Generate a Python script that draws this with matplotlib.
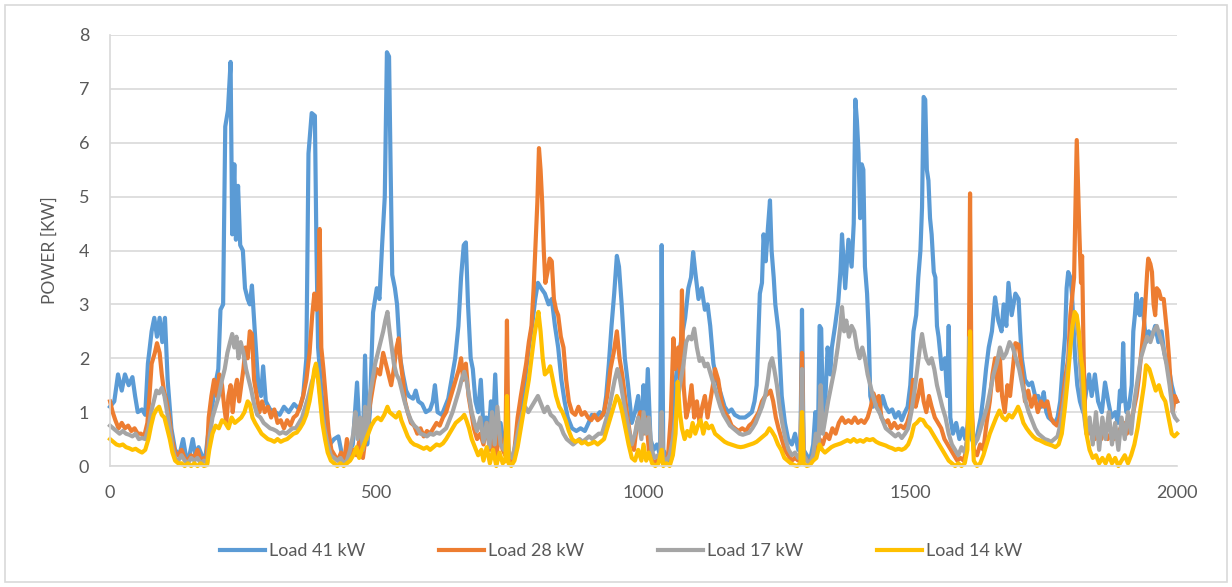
import matplotlib.pyplot as plt
import matplotlib.patches as mpatches
import numpy as np

plt.rcParams['font.family'] = ['Lato', 'DejaVu Sans']

# (time step, power kW)
load_41 = [(0,1.1),(8,1.2),(15,1.7),(22,1.4),(28,1.7),(35,1.5),(42,1.65),(47,1.3),(52,1.0),(60,1.05),
    (66,0.95),(71,1.9),(78,2.5),(83,2.75),(88,2.4),(93,2.75),(98,2.3),(103,2.75),(108,1.6),(115,0.7),
    (122,0.3),(130,0.2),(137,0.5),(142,0.2),(148,0.15),(155,0.5),(160,0.2),(166,0.35),(172,0.2),(178,0.1),
    (184,0.6),(190,1.0),(197,1.5),(203,1.8),(207,2.9),(212,3.0),(216,6.3),(221,6.6),(226,7.5),(229,4.3),
    (233,5.6),(236,4.2),(240,5.2),(244,4.1),(249,4.0),(253,3.3),(258,3.1),(262,3.0),(266,3.35),(272,2.4),
    (278,1.5),(283,1.3),(287,1.85),(292,1.2),(300,1.05),(310,1.0),(318,0.95),(326,1.1),(335,1.0),(345,1.15),
    (355,1.05),(362,1.3),(368,2.0),(372,5.8),(378,6.55),(384,6.5),(387,4.0),(390,2.2),(397,1.3),(405,0.8),
    (412,0.4),(420,0.5),(428,0.55),(435,0.2),(442,0.15),(448,0.25),(455,0.4),(463,1.55),(468,0.6),(474,0.4),
    (478,2.05),(482,0.4),(487,1.0),(493,2.85),(500,3.3),(505,3.1),(510,4.1),(515,5.0),(519,7.68),(523,7.6),
    (526,5.5),(529,3.55),(534,3.3),(538,3.0),(544,2.0),(549,1.7),(555,1.4),(560,1.3),(568,1.25),(573,1.4),
    (578,1.2),(585,1.15),(592,1.0),(600,1.05),(605,1.2),(609,1.5),(614,1.0),(622,0.95),(628,1.1),(634,1.25),
    (640,1.6),(647,2.0),(653,2.6),(658,3.5),(663,4.1),(667,4.15),(671,3.0),(676,2.0),(680,1.8),(685,1.2),
    (690,1.0),(695,1.6),(700,0.7),(705,0.9),(709,0.5),(714,1.2),(718,0.7),(722,1.7),(727,0.5),(732,0.8),
    (738,0.4),(746,0.2),(752,0.1),(759,0.2),(765,0.6),(772,1.0),(778,1.6),(785,2.2),(791,2.6),(797,3.1),
    (802,3.4),(808,3.3),(815,3.2),(822,3.0),(828,3.1),(834,2.6),(840,2.2),(846,1.6),(852,1.2),(858,0.9),
    (866,0.7),(874,0.65),(882,0.7),(890,0.65),(897,0.8),(903,0.95),(910,0.9),(918,1.0),(925,0.95),(930,1.3),
    (935,1.9),(940,2.6),(945,3.2),(950,3.9),(954,3.7),(959,3.0),(965,2.0),(971,1.5),(978,0.8),(984,1.0),
    (990,1.3),(996,0.6),(1000,1.5),(1004,0.8),(1008,1.8),(1013,0.5),(1019,0.3),(1025,0.4),(1031,0.2),(1034,4.1),
    (1037,0.3),(1042,0.2),(1047,0.1),(1053,0.15),(1059,1.5),(1065,2.0),(1072,2.4),(1078,2.75),(1084,3.3),(1089,3.5),
    (1093,3.97),(1097,3.6),(1103,3.1),(1109,3.3),(1115,2.9),(1120,3.0),(1125,2.6),(1131,1.9),(1137,1.6),(1146,1.3),
    (1152,1.1),(1159,1.0),(1165,1.05),(1171,0.95),(1180,0.9),(1190,0.9),(1197,0.95),(1203,1.0),(1208,1.2),(1212,1.5),
    (1218,3.2),(1222,3.4),(1225,4.3),(1229,3.8),(1233,4.4),(1237,4.93),(1240,4.0),(1244,3.5),(1247,3.0),(1253,2.5),
    (1259,1.3),(1265,0.8),(1271,0.5),(1278,0.4),(1284,0.6),(1290,0.3),(1294,0.3),(1297,2.9),(1300,0.3),(1306,0.2),
    (1312,0.1),(1318,0.4),(1322,1.0),(1327,0.6),(1330,2.6),(1333,2.55),(1336,1.0),(1341,1.3),(1345,2.2),(1350,1.7),
    (1353,2.2),(1359,2.6),(1365,3.05),(1369,3.6),(1372,4.3),(1378,3.3),(1384,4.2),(1390,3.7),(1394,4.5),(1397,6.8),
    (1400,6.4),(1403,5.8),(1406,4.6),(1409,5.6),(1412,5.5),(1415,3.7),(1419,3.2),(1422,2.5),(1425,1.3),(1430,1.1),
    (1436,1.2),(1442,1.0),(1448,1.3),(1454,1.1),(1460,1.0),(1466,1.05),(1472,0.9),(1478,1.0),(1484,0.85),(1490,1.0),
    (1495,1.1),(1500,1.5),(1506,2.5),(1511,2.8),(1515,3.5),(1519,4.0),(1522,4.8),(1525,6.85),(1528,6.8),(1531,5.5),
    (1534,5.3),(1537,4.6),(1540,4.3),(1544,3.6),(1547,3.5),(1550,2.6),(1553,2.4),(1559,1.8),(1565,2.0),(1569,1.3),
    (1572,2.6),(1575,0.9),(1580,0.6),(1586,0.8),(1592,0.5),(1598,0.7),(1603,0.5),(1609,0.8),(1615,0.5),(1620,0.4),
    (1626,0.6),(1632,0.9),(1637,1.3),(1642,1.8),(1647,2.2),(1653,2.5),(1659,3.13),(1665,2.7),(1671,2.5),(1675,3.0),
    (1680,2.6),(1684,3.4),(1690,2.8),(1697,3.2),(1703,3.1),(1706,2.5),(1709,2.0),(1715,1.6),(1722,1.5),(1728,1.55),
    (1734,1.3),(1740,1.3),(1746,1.1),(1750,1.37),(1755,1.0),(1759,0.9),(1765,0.85),(1771,0.8),(1776,0.9),(1781,1.2),
    (1786,1.9),(1790,2.4),(1793,3.3),(1796,3.6),(1800,3.5),(1803,3.2),(1806,2.6),(1809,2.0),(1813,1.5),(1818,1.2),
    (1824,1.0),(1830,1.4),(1835,1.7),(1840,1.3),(1846,1.7),(1852,1.2),(1859,1.0),(1865,1.55),(1871,1.2),(1877,0.9),
    (1884,1.0),(1889,0.8),(1893,1.4),(1896,1.2),(1899,2.28),(1902,1.3),(1905,1.0),(1910,1.1),(1915,1.5),(1918,2.5),
    (1921,2.8),(1924,3.2),(1927,2.9),(1930,2.8),(1934,3.1),(1938,2.7),(1942,2.3),(1947,2.5),(1953,2.4),(1959,2.6),
    (1965,2.3),(1971,2.5),(1976,2.1),(1981,1.9),(1985,1.8),(1990,1.5),(1995,1.3),(2000,1.2)]

load_28 = [(0,1.2),(5,1.0),(10,0.85),(16,0.7),(22,0.8),(28,0.7),(34,0.75),(40,0.65),(46,0.7),(52,0.6),
    (58,0.6),(64,0.55),(70,0.8),(74,1.3),(78,1.9),(84,2.1),(88,2.28),(93,2.1),(97,1.7),(101,1.4),
    (106,1.2),(111,0.9),(116,0.5),(122,0.25),(128,0.2),(134,0.3),(140,0.15),(146,0.1),(152,0.2),(158,0.15),
    (164,0.3),(170,0.1),(176,0.15),(181,0.1),(185,0.9),(190,1.3),(195,1.6),(200,1.3),(205,1.7),(210,1.5),
    (214,1.1),(218,0.8),(222,1.3),(226,1.5),(230,1.0),(234,1.4),(238,1.6),(242,1.2),(246,1.5),(250,1.8),
    (254,2.2),(258,2.0),(262,2.5),(266,2.45),(270,1.6),(275,1.3),(280,1.0),(285,1.2),(290,1.0),(296,1.1),
    (302,0.9),(308,1.05),(314,0.8),(320,0.85),(326,0.7),(332,0.85),(338,0.75),(344,0.9),(350,0.95),(356,1.1),
    (362,1.3),(368,1.6),(374,2.1),(379,2.8),(383,3.2),(387,2.9),(390,3.0),(393,4.4),(396,2.2),(400,1.8),
    (405,1.2),(410,0.6),(415,0.3),(421,0.2),(427,0.1),(433,0.25),(439,0.1),(444,0.5),(450,0.2),(456,0.3),
    (462,0.2),(468,0.5),(474,0.15),(480,0.6),(485,1.0),(490,1.3),(495,1.6),(500,1.8),(506,1.7),(512,2.1),
    (517,1.9),(522,1.7),(527,1.5),(532,1.8),(537,2.2),(541,2.37),(545,1.9),(549,1.6),(553,1.2),(558,1.0),
    (564,0.8),(570,0.75),(576,0.6),(582,0.7),(588,0.55),(594,0.65),(600,0.6),(606,0.7),(612,0.8),(618,0.75),
    (624,0.9),(630,1.0),(636,1.2),(642,1.4),(648,1.6),(654,1.8),(658,2.0),(662,1.6),(667,1.9),(672,1.3),
    (677,1.0),(682,0.7),(688,0.5),(694,0.6),(700,0.4),(706,0.8),(712,0.3),(718,0.5),(724,0.2),(730,0.6),
    (736,0.3),(741,0.2),(744,2.7),(747,0.2),(752,0.1),(758,0.3),(764,0.9),(770,1.3),(775,1.6),(780,1.9),
    (785,2.3),(790,2.6),(794,3.3),(798,4.2),(801,4.9),(804,5.9),(807,5.5),(810,4.9),(813,4.0),(816,3.4),
    (820,3.6),(824,3.85),(828,3.8),(832,3.1),(836,2.9),(840,2.8),(845,2.4),(850,2.2),(855,1.6),(860,1.2),
    (866,1.0),(872,0.95),(878,1.1),(884,0.95),(890,1.0),(896,0.9),(902,0.85),(908,0.95),(914,0.85),(920,0.9),
    (926,1.0),(932,1.3),(938,1.8),(944,2.1),(950,2.5),(955,2.0),(960,1.7),(965,1.3),(970,0.9),(976,0.5),
    (982,0.3),(988,0.8),(994,1.0),(1000,0.6),(1005,0.9),(1010,0.3),(1016,0.1),(1022,0.05),(1028,0.15),(1034,0.1),
    (1040,0.05),(1046,0.2),(1051,0.9),(1056,2.37),(1059,1.8),(1065,2.2),(1069,1.6),(1072,3.26),(1075,1.5),(1080,0.9),
    (1085,1.1),(1090,1.5),(1095,0.9),(1100,1.2),(1105,0.8),(1110,1.1),(1115,1.3),(1120,0.9),(1125,1.2),(1130,1.5),
    (1134,1.8),(1140,1.6),(1146,1.2),(1152,1.0),(1159,0.9),(1165,0.75),(1171,0.7),(1178,0.65),(1185,0.7),(1192,0.65),
    (1198,0.75),(1204,0.8),(1210,0.9),(1216,1.0),(1222,1.2),(1228,1.3),(1234,1.35),(1238,1.4),(1243,1.2),(1248,0.9),
    (1253,0.7),(1259,0.5),(1265,0.3),(1271,0.2),(1278,0.1),(1284,0.15),(1290,0.1),(1294,0.2),(1297,2.1),(1300,0.2),
    (1306,0.1),(1312,0.05),(1318,0.2),(1324,0.3),(1330,0.5),(1336,0.4),(1342,0.6),(1348,0.5),(1354,0.7),(1360,0.6),
    (1366,0.8),(1372,0.9),(1378,0.8),(1384,0.85),(1390,0.8),(1396,0.9),(1402,0.8),(1408,0.85),(1414,0.8),(1420,0.9),
    (1426,1.1),(1431,1.35),(1436,1.2),(1441,1.3),(1446,0.9),(1452,0.8),(1458,0.85),(1464,0.7),(1470,0.8),(1476,0.7),
    (1482,0.75),(1488,0.7),(1494,0.8),(1500,1.0),(1505,1.6),(1510,1.1),(1515,1.3),(1520,1.6),(1525,1.2),(1530,1.0),
    (1535,1.3),(1540,1.1),(1546,0.9),(1552,0.8),(1558,0.7),(1564,0.5),(1570,0.4),(1576,0.3),(1582,0.2),(1588,0.1),
    (1594,0.15),(1600,0.1),(1605,0.3),(1609,1.0),(1612,5.06),(1615,1.2),(1619,0.3),(1625,0.2),(1631,0.4),(1637,0.3),
    (1643,0.8),(1649,1.2),(1654,1.7),(1659,2.0),(1664,1.4),(1668,2.0),(1672,1.3),(1677,1.0),(1682,1.5),(1687,1.3),
    (1692,1.8),(1697,2.28),(1703,2.25),(1709,1.8),(1715,1.2),(1721,1.4),(1727,1.1),(1733,1.3),(1739,1.0),(1745,1.2),
    (1751,1.1),(1757,1.2),(1763,0.9),(1769,0.8),(1775,0.75),(1780,0.9),(1785,1.2),(1790,1.6),(1796,2.0),(1800,2.8),
    (1803,3.1),(1807,3.5),(1810,5.0),(1812,6.05),(1815,5.0),(1817,4.3),(1820,3.4),(1822,3.9),(1825,2.0),(1828,0.8),
    (1834,0.6),(1840,0.7),(1846,0.5),(1852,0.6),(1858,0.5),(1864,0.7),(1870,0.5),(1876,0.6),(1882,0.5),(1888,0.6),
    (1894,0.7),(1900,0.8),(1906,0.6),(1912,0.8),(1918,1.0),(1924,1.3),(1928,1.6),(1934,2.2),(1938,2.6),(1941,3.1),
    (1944,3.6),(1946,3.85),(1950,3.75),(1953,3.6),(1956,3.0),(1959,2.8),(1962,3.3),(1966,3.25),(1970,3.1),(1975,3.1),
    (1978,2.8),(1981,2.5),(1985,2.0),(1988,1.5),(1992,1.0),(1996,1.3),(2000,1.2)]

load_17 = [(0,0.75),(6,0.7),(12,0.65),(18,0.6),(24,0.65),(30,0.6),(36,0.58),(42,0.55),(48,0.6),(54,0.5),
    (60,0.52),(66,0.5),(72,0.7),(77,1.0),(82,1.2),(87,1.4),(92,1.35),(97,1.45),(102,1.3),(107,1.0),
    (112,0.7),(117,0.35),(122,0.15),(128,0.1),(134,0.2),(140,0.1),(146,0.05),(152,0.15),(158,0.1),(164,0.15),
    (170,0.05),(176,0.1),(182,0.05),(186,0.5),(192,0.9),(198,1.1),(204,1.3),(210,1.6),(215,1.8),(220,2.1),
    (225,2.3),(229,2.45),(233,2.2),(237,2.4),(241,2.0),(245,2.3),(250,2.1),(255,1.8),(260,1.6),(265,1.4),
    (270,1.15),(276,0.95),(282,0.9),(288,0.8),(294,0.75),(300,0.7),(306,0.68),(312,0.65),(318,0.6),(324,0.63),
    (330,0.6),(336,0.65),(342,0.7),(348,0.7),(354,0.8),(360,0.9),(366,1.1),(372,1.3),(378,1.55),(383,1.7),
    (388,1.8),(392,1.5),(397,1.0),(402,0.7),(408,0.4),(414,0.2),(420,0.15),(426,0.1),(432,0.15),(438,0.05),
    (444,0.1),(450,0.3),(456,0.6),(460,1.0),(464,0.5),(469,0.9),(474,0.3),(478,1.1),(482,0.5),(487,1.3),
    (492,1.6),(497,1.9),(502,2.1),(507,2.3),(512,2.5),(516,2.7),(520,2.86),(524,2.5),(528,2.2),(532,1.9),
    (537,1.7),(542,1.6),(547,1.4),(552,1.2),(558,1.0),(564,0.85),(570,0.75),(576,0.7),(582,0.6),(588,0.58),
    (594,0.55),(600,0.6),(606,0.58),(612,0.62),(618,0.6),(624,0.65),(630,0.7),(636,0.85),(642,1.0),(648,1.2),
    (654,1.4),(659,1.6),(664,1.75),(668,1.6),(673,1.3),(678,1.0),(683,0.8),(688,0.65),(694,0.9),(700,0.45),
    (706,0.8),(711,0.35),(716,1.0),(721,0.4),(726,1.1),(732,0.4),(738,0.3),(744,0.6),(748,0.2),(754,0.15),
    (760,0.4),(766,0.7),(772,0.95),(778,1.1),(784,1.0),(790,1.1),(796,1.2),(802,1.3),(808,1.15),(814,1.0),
    (820,1.1),(826,0.95),(832,0.9),(838,0.8),(844,0.75),(850,0.6),(856,0.5),(862,0.45),(868,0.4),(874,0.45),
    (880,0.5),(886,0.45),(892,0.5),(898,0.55),(904,0.5),(910,0.55),(916,0.6),(922,0.6),(928,0.8),(934,1.0),
    (940,1.3),(946,1.6),(951,1.8),(956,1.6),(961,1.3),(966,1.0),(972,0.7),(978,0.4),(984,0.6),(990,0.9),
    (996,0.5),(1000,1.0),(1005,0.6),(1010,0.9),(1015,0.3),(1021,0.15),(1027,0.2),(1031,0.1),(1034,1.0),(1037,0.15),
    (1043,0.1),(1049,0.2),(1055,0.5),(1060,0.9),(1065,1.3),(1070,1.6),(1075,1.9),(1080,2.3),(1085,2.4),(1090,2.35),
    (1095,2.55),(1100,2.2),(1105,1.95),(1110,2.0),(1115,1.85),(1120,1.9),(1126,1.7),(1132,1.5),(1138,1.3),(1144,1.1),
    (1150,0.95),(1156,0.85),(1162,0.75),(1168,0.7),(1174,0.65),(1180,0.6),(1186,0.58),(1192,0.6),(1198,0.62),(1204,0.7),
    (1210,0.8),(1216,0.95),(1222,1.1),(1228,1.3),(1233,1.6),(1237,1.9),(1241,2.0),(1245,1.8),(1250,1.5),(1255,1.1),
    (1260,0.8),(1266,0.5),(1272,0.3),(1278,0.2),(1284,0.25),(1290,0.15),(1294,0.2),(1297,1.8),(1300,0.2),(1306,0.1),
    (1312,0.05),(1318,0.2),(1323,0.6),(1328,0.4),(1332,1.5),(1336,0.6),(1341,0.9),(1346,1.2),(1352,1.5),(1358,1.8),
    (1364,2.2),(1369,2.6),(1372,2.95),(1376,2.5),(1380,2.7),(1385,2.4),(1390,2.6),(1395,2.5),(1400,2.2),(1405,2.0),
    (1410,2.2),(1415,2.0),(1420,1.7),(1425,1.5),(1430,1.3),(1436,1.1),(1442,1.0),(1448,0.85),(1454,0.7),(1460,0.65),
    (1466,0.6),(1472,0.55),(1478,0.6),(1484,0.52),(1490,0.6),(1496,0.7),(1502,1.0),(1508,1.4),(1513,1.8),(1518,2.2),
    (1522,2.45),(1526,2.2),(1530,2.0),(1535,1.9),(1540,2.0),(1545,1.8),(1550,1.5),(1555,1.3),(1560,1.1),(1566,0.9),
    (1572,0.6),(1578,0.4),(1584,0.3),(1590,0.2),(1596,0.35),(1602,0.25),(1607,0.5),(1611,2.4),(1615,0.8),(1620,0.4),
    (1626,0.5),(1632,0.7),(1638,0.9),(1644,1.1),(1650,1.4),(1656,1.7),(1662,1.9),(1668,2.2),(1674,2.0),(1680,2.1),
    (1686,2.3),(1692,2.2),(1698,2.0),(1704,1.8),(1710,1.5),(1716,1.2),(1722,1.0),(1728,0.85),(1734,0.7),(1740,0.6),
    (1746,0.55),(1752,0.5),(1758,0.48),(1764,0.45),(1770,0.5),(1776,0.55),(1782,0.8),(1788,1.2),(1794,1.7),(1799,2.2),
    (1804,2.6),(1808,2.8),(1812,2.7),(1816,2.3),(1820,1.6),(1825,1.0),(1830,0.6),(1836,0.9),(1842,0.4),(1848,1.0),
    (1854,0.3),(1860,0.9),(1866,0.5),(1872,1.0),(1878,0.4),(1884,0.8),(1890,0.3),(1896,0.9),(1902,0.5),(1908,1.0),
    (1914,0.6),(1920,1.2),(1926,1.6),(1932,2.0),(1938,2.2),(1944,2.4),(1950,2.3),(1956,2.5),(1962,2.6),(1968,2.4),
    (1974,2.2),(1980,1.9),(1986,1.5),(1992,1.0),(1996,0.9),(2000,0.85)]

load_14 = [(0,0.5),(6,0.45),(12,0.4),(18,0.38),(24,0.4),(30,0.35),(36,0.33),(42,0.3),(48,0.32),(54,0.28),
    (60,0.25),(66,0.3),(72,0.5),(77,0.75),(82,0.95),(87,1.05),(92,1.1),(97,0.95),(102,0.9),(107,0.7),
    (112,0.5),(117,0.25),(122,0.1),(128,0.05),(134,0.05),(140,0.0),(146,0.05),(152,0.0),(158,0.05),(164,0.0),
    (170,0.05),(176,0.0),(182,0.02),(186,0.3),(192,0.6),(198,0.75),(204,0.7),(210,0.85),(216,0.8),(222,0.7),
    (228,0.9),(234,0.8),(240,0.85),(246,0.9),(252,1.0),(258,1.2),(262,1.15),(267,0.9),(272,0.8),(278,0.7),
    (284,0.6),(290,0.55),(296,0.5),(302,0.48),(308,0.45),(314,0.5),(320,0.45),(326,0.48),(332,0.5),(338,0.55),
    (344,0.6),(350,0.62),(356,0.7),(362,0.8),(368,0.95),(374,1.2),(379,1.5),(383,1.8),(386,1.9),(390,1.6),
    (394,1.2),(398,0.8),(403,0.5),(408,0.25),(414,0.1),(420,0.05),(426,0.0),(432,0.05),(438,0.0),(444,0.05),
    (450,0.1),(456,0.2),(462,0.35),(467,0.15),(472,0.3),(478,0.45),(484,0.6),(490,0.75),(496,0.85),(502,0.9),
    (508,0.85),(514,0.95),(520,1.1),(524,1.0),(530,0.95),(536,0.9),(542,1.0),(546,0.85),(552,0.7),(558,0.55),
    (564,0.45),(570,0.4),(576,0.38),(582,0.35),(588,0.32),(594,0.35),(600,0.3),(606,0.35),(612,0.4),(618,0.38),
    (624,0.42),(630,0.5),(636,0.6),(642,0.7),(648,0.8),(654,0.85),(660,0.9),(664,0.95),(668,0.85),(673,0.7),
    (678,0.5),(684,0.35),(690,0.2),(696,0.3),(700,0.1),(706,0.35),(712,0.05),(718,0.3),(724,0.0),(730,0.25),
    (736,0.05),(741,0.1),(744,1.3),(747,0.05),(752,0.0),(758,0.1),(764,0.35),(770,0.7),(775,1.0),(780,1.3),
    (785,1.6),(790,2.0),(795,2.4),(800,2.7),(803,2.86),(807,2.5),(811,2.0),(815,1.7),(820,1.75),(825,1.85),
    (830,1.6),(836,1.3),(842,1.1),(848,1.0),(854,0.85),(860,0.65),(866,0.5),(872,0.45),(878,0.48),(884,0.42),
    (890,0.45),(896,0.4),(902,0.42),(908,0.45),(914,0.4),(920,0.45),(926,0.5),(932,0.7),(938,0.9),(944,1.1),
    (950,1.3),(955,1.2),(960,1.0),(966,0.7),(972,0.4),(978,0.15),(984,0.1),(990,0.3),(996,0.1),(1000,0.4),
    (1005,0.1),(1010,0.25),(1016,0.05),(1022,0.0),(1028,0.05),(1034,0.3),(1037,0.0),(1043,0.05),(1049,0.0),(1055,0.2),
    (1060,0.6),(1064,1.56),(1068,1.0),(1072,0.7),(1077,0.5),(1082,0.65),(1087,0.55),(1092,0.8),(1097,0.6),(1102,0.75),
    (1107,0.85),(1112,0.6),(1117,0.8),(1122,0.7),(1128,0.75),(1134,0.6),(1140,0.55),(1146,0.5),(1152,0.45),(1158,0.42),
    (1164,0.4),(1170,0.38),(1176,0.36),(1182,0.35),(1188,0.36),(1194,0.38),(1200,0.4),(1206,0.42),(1212,0.45),(1218,0.5),
    (1224,0.55),(1230,0.6),(1236,0.7),(1240,0.65),(1246,0.55),(1252,0.4),(1258,0.3),(1264,0.15),(1270,0.1),(1276,0.05),
    (1282,0.02),(1288,0.0),(1294,0.05),(1297,1.0),(1300,0.05),(1306,0.0),(1312,0.02),(1318,0.1),(1324,0.15),(1330,0.4),
    (1335,0.3),(1340,0.25),(1346,0.3),(1352,0.35),(1358,0.38),(1364,0.4),(1370,0.42),(1376,0.45),(1382,0.48),(1388,0.45),
    (1394,0.5),(1400,0.45),(1406,0.48),(1412,0.45),(1418,0.5),(1424,0.48),(1430,0.5),(1436,0.45),(1442,0.42),(1448,0.4),
    (1454,0.38),(1460,0.35),(1466,0.33),(1472,0.3),(1478,0.32),(1484,0.3),(1490,0.33),(1496,0.4),(1502,0.55),(1507,0.76),
    (1512,0.8),(1518,0.87),(1524,0.85),(1530,0.75),(1536,0.7),(1542,0.6),(1548,0.5),(1554,0.4),(1560,0.3),(1566,0.2),
    (1572,0.1),(1578,0.05),(1584,0.0),(1590,0.05),(1596,0.0),(1602,0.05),(1607,0.3),(1610,1.5),(1612,2.5),(1615,1.0),
    (1619,0.1),(1625,0.0),(1631,0.05),(1637,0.2),(1643,0.4),(1649,0.6),(1655,0.75),(1661,0.9),(1667,1.03),(1673,0.9),
    (1679,0.85),(1685,0.95),(1691,0.9),(1697,1.0),(1702,1.1),(1706,1.0),(1712,0.8),(1718,0.7),(1724,0.62),(1730,0.55),
    (1736,0.5),(1742,0.48),(1748,0.45),(1754,0.42),(1760,0.4),(1766,0.38),(1772,0.35),(1778,0.4),(1784,0.6),(1790,1.1),
    (1795,1.6),(1800,2.2),(1804,2.6),(1808,2.86),(1812,2.8),(1816,2.5),(1820,2.0),(1823,1.8),(1826,1.2),(1830,0.6),
    (1836,0.3),(1842,0.15),(1848,0.2),(1854,0.05),(1860,0.15),(1866,0.05),(1872,0.2),(1878,0.05),(1884,0.15),(1890,0.0),
    (1896,0.1),(1902,0.2),(1908,0.05),(1914,0.2),(1920,0.4),(1926,0.7),(1932,1.1),(1938,1.5),(1942,1.87),(1948,1.8),
    (1954,1.6),(1960,1.4),(1966,1.5),(1972,1.3),(1978,1.2),(1984,0.9),(1990,0.6),(1995,0.55),(2000,0.6)]

names = ["Load 41 kW", "Load 28 kW", "Load 17 kW", "Load 14 kW"]
colors = ["#5B9BD5", "#ED7D31", "#A5A5A5", "#FFC000"]
x_ticks = [0, 500, 1000, 1500, 2000]
y_ticks = [0, 1, 2, 3, 4, 5, 6, 7, 8]

fig = plt.figure(figsize=(12.32, 5.87), dpi=100)
ax = fig.add_axes([0.0893, 0.2061, 0.8661, 0.7343])

for series, name, col in zip([load_41, load_28, load_17, load_14], names, colors):
    arr = np.array(series)
    ax.plot(arr[:, 0], arr[:, 1], color=col, lw=3.0, label=name, clip_on=False)

ax.set_xlim(0, 2000)
ax.set_ylim(0, 8)
ax.set_xticks(x_ticks)
ax.set_yticks(y_ticks)
ax.grid(axis='y', color='#D9D9D9', lw=1.2)
ax.set_axisbelow(True)
for s in ['top', 'right']:
    ax.spines[s].set_visible(False)
for s in ['left', 'bottom']:
    ax.spines[s].set_color('#D9D9D9')
    ax.spines[s].set_linewidth(1.2)
ax.tick_params(axis='both', length=0, labelsize=13, labelcolor='#595959')
ax.tick_params(axis='y', pad=15)
ax.tick_params(axis='x', pad=14)
ax.set_ylabel("POWER [KW]", fontsize=12.5, color='#595959', labelpad=15)

fig.legend(loc='center', bbox_to_anchor=(0.504, 0.061), ncol=4, frameon=False,
           fontsize=13, handlelength=2.5, handletextpad=0.2, columnspacing=4.1,
           labelcolor='#595959')

# light border round the chart area
fig.patches.append(mpatches.Rectangle((0.004, 0.008), 0.992, 0.984, transform=fig.transFigure,
                                      fill=False, edgecolor='#D9D9D9', lw=1.2))

fig.savefig("out.png", dpi=100)
